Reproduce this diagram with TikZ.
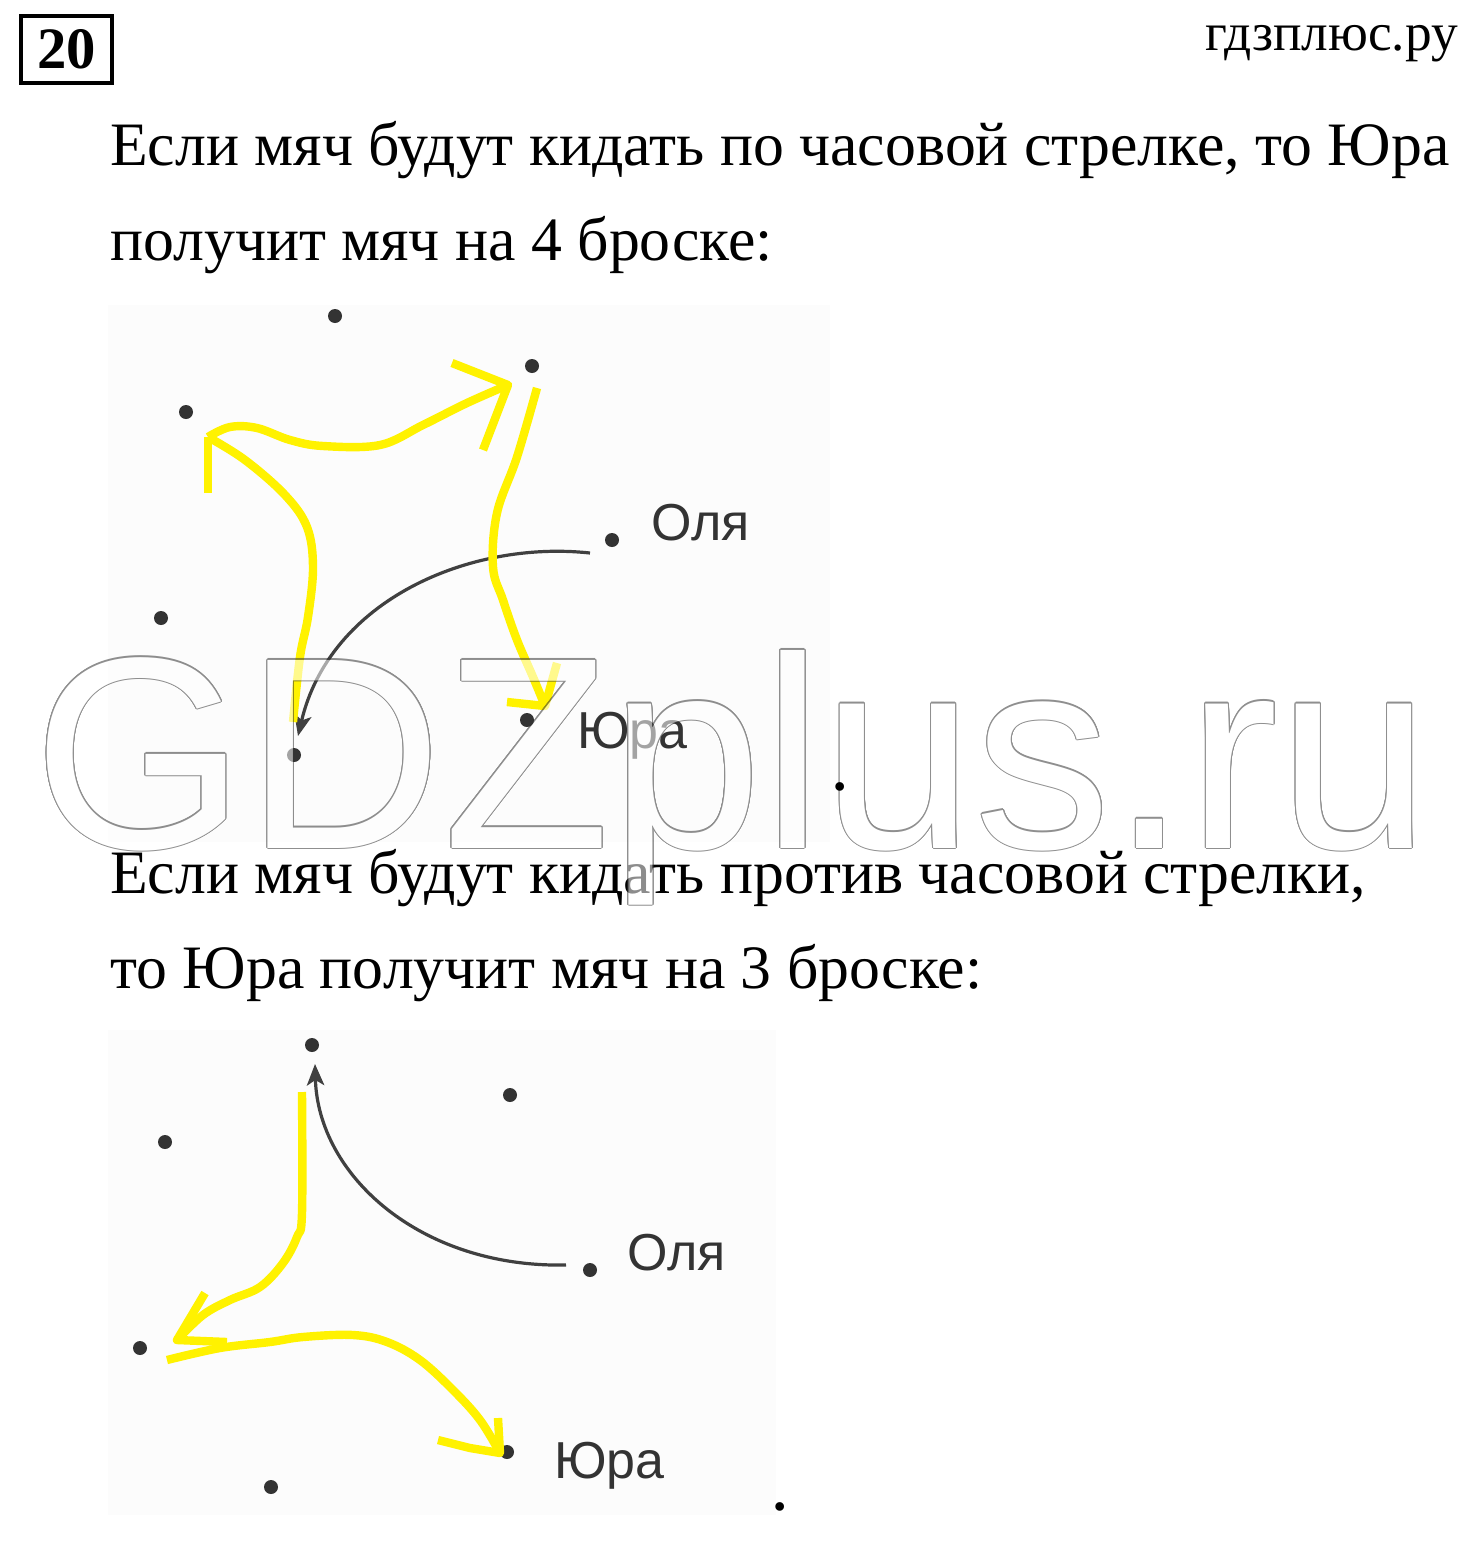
\documentclass[tikz,border=0pt]{standalone}
\usepackage{fontspec}
\setmainfont{Liberation Serif}
\newfontfamily\namefont{Liberation Sans}
\usepackage{tikz}
\usetikzlibrary{arrows.meta}
\definecolor{markeryellow}{RGB}{255,242,0}
\definecolor{ink}{RGB}{51,51,51}
\definecolor{pen}{RGB}{64,64,64}

\tikzset{
  bodytext/.style={anchor=base west, inner sep=0pt, font=\fontsize{46.3}{56}\selectfont},
  kidname/.style={anchor=base west, inner sep=0pt, text=ink, font=\namefont\fontsize{39}{47}\selectfont},
  kid/.style={circle, fill=ink, inner sep=0pt, minimum size=10.5pt},
  throw/.style={draw=pen, line width=2.4pt, -{Stealth[length=16pt,width=13pt,inset=4pt]}},
  hand/.style={draw=markeryellow, line width=6.3pt, line join=round},
  wmark/.style={anchor=base west, inner sep=0pt, font=\namefont\fontsize{205}{240}\selectfont},
}

\begin{document}
\begin{tikzpicture}[x=0.75pt,y=0.75pt,yscale=-1,xscale=1]
\path[use as bounding box] (0,0) rectangle (1470,1542);

% Header
\node[draw, line width=3pt, minimum width=68pt, minimum height=50pt, inner sep=0pt, font=\bfseries\fontsize{44}{50}\selectfont] (num) at (66.5,49.5) {20};
\node[anchor=base east, inner sep=0pt, font=\fontsize{40}{48}\selectfont] (site) at (1458,50) {гдзплюс.ру};

% Text Node
\node[bodytext] (line1) at (110,165) {Если мяч будут кидать по часовой стрелке, то Юра};
\node[bodytext] (line2) at (110,260) {получит мяч на 4 броске:};
\node[bodytext] (line3) at (110,893) {Если мяч будут кидать против часовой стрелки,};
\node[bodytext] (line4) at (110,988) {то Юра получит мяч на 3 броске:};

%Shape: picture grounds
\fill[black!1] (108,305) rectangle (830,842);
\fill[black!1] (108,1030) rectangle (776,1515);

%Shape: kids, clockwise
\node[kid] (a1) at (335,316) {};
\node[kid] (a2) at (532,366) {};
\node[kid] (a3) at (186,412) {};
\node[kid] (olya1) at (612,540) {};
\node[kid] (a5) at (161,618) {};
\node[kid] (a6) at (294,755) {};
\node[kid] (yura1) at (527,720) {};
\node[kidname] (olyaname1) at (651,540) {Оля};
\node[kidname] (yuraname1) at (577,748) {Юра};

\draw[throw] ([shift={(-22,13)}]olya1.center) .. controls (470,540) and (330,600) .. ([shift={(4,-19)}]a6.center);

% yellow marker
\coordinate (tip1) at (208,437);
\coordinate (tip2) at (508,385);
\coordinate (tip3) at (545,706);
\draw[hand] plot[smooth, tension=0.6] coordinates {(293,722) (300,657) (308,617) (313,567) (307,527) (285,495) (245,460) (tip1)};
\draw[hand] (208,493) -- (tip1);
\draw[hand] plot[smooth, tension=0.6] coordinates {(tip1) (230,427) (257,428) (290,440) (323,446) (380,445) (423,425) (467,403) (tip2)};
\draw[hand] (452,363) -- (tip2) -- (483,450);
\draw[hand] plot[smooth, tension=0.6] coordinates {(537,388) (517,457) (497,513) (493,567) (503,600) (517,640) (533,677) (tip3)};
\draw[hand] (507,702) -- (tip3) -- (557,663);

%Shape: kids, counter-clockwise
\node[kid] (b1) at (312,1045) {};
\node[kid] (b2) at (510,1095) {};
\node[kid] (b3) at (165,1142) {};
\node[kid] (olya2) at (590,1270) {};
\node[kid] (b5) at (140,1348) {};
\node[kid] (yura2) at (507,1452) {};
\node[kid] (b7) at (271,1487) {};
\node[kidname] (olyaname2) at (627,1270) {Оля};
\node[kidname] (yuraname2) at (554,1478) {Юра};

\draw[throw] ([shift={(-24,-5)}]olya2.center) .. controls (420,1268) and (318,1175) .. ([shift={(3,19)}]b1.center);

% yellow marker
\coordinate (tip4) at (177,1340);
\coordinate (tip5) at (500,1453);
\draw[hand] plot[smooth, tension=0.6] coordinates {(302,1092) (302,1213) (297,1237) (283,1263) (260,1287) (230,1300) (203,1315) (tip4)};
\draw[hand] (205,1293) -- (tip4) -- (227,1342);
\draw[hand] plot[smooth, tension=0.6] coordinates {(167,1360) (220,1348) (270,1342) (303,1337) (353,1335) (387,1342) (420,1360) (453,1390) (480,1420) (tip5)};
\draw[hand] (438,1440) -- (470,1448) -- (tip5) -- (498,1418);

% watermark
\begin{scope}[transparency group, opacity=0.55]
\foreach \a [count=\i] in {0,22.5,...,337.5}
  \node[wmark, text=black!80, xshift={0.8pt*cos(\a)}, yshift={0.8pt*sin(\a)}] (wmedge\i) at (33,848) {GDZplus.ru};
\node[wmark, text=white] (wmfill) at (33,848) {GDZplus.ru};
\end{scope}

% closing dots
\node[inner sep=0pt, font=\bfseries\fontsize{40}{48}\selectfont] (stop1) at (840,787) {.};
\node[inner sep=0pt, font=\bfseries\fontsize{40}{48}\selectfont] (stop2) at (780,1507) {.};

\end{tikzpicture}
\end{document}
